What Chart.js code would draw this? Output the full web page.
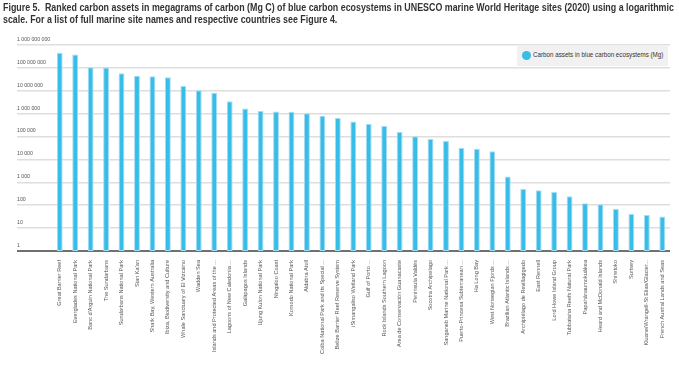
<!DOCTYPE html>
<html lang="en">
<head>
<meta charset="UTF-8">
<title>Figure 5 - Carbon assets</title>
<script src="https://cdn.jsdelivr.net/npm/chart.js"></script>
<style>
  body { margin: 0; background: #fff; }
  #wrap { position: relative; width: 679px; height: 372px; overflow: hidden; }
  #titulo {
    position: absolute; left: 3px; top: 1px;
    font-family: "Liberation Sans", Arial, sans-serif;
    font-weight: bold; font-size: 10.5px; line-height: 12px; color: #333;
    white-space: nowrap; transform: scaleX(0.845); transform-origin: left top;
  }
  #legenda {
    position: absolute; left: 517px; top: 45px; width: 151px; height: 21px;
    background: #f1f1f1;
    font-family: "Liberation Sans", Arial, sans-serif;
    font-size: 7.8px; color: #333; white-space: nowrap;
  }
  #legenda .bola {
    position: absolute; left: 5px; top: 6px; width: 9px; height: 9px; border-radius: 50%;
    background: #38bde9;
  }
  #legenda .txt {
    position: absolute; left: 16px; top: 5px; line-height: 10px;
    transform: scaleX(0.8); transform-origin: left top;
  }
  canvas { position: absolute; left: 0; top: 0; }
</style>
</head>
<body>
<div id="wrap">
  <canvas id="grafico" width="679" height="372"></canvas>
  <div id="titulo">Figure 5.&nbsp; Ranked carbon assets in megagrams of carbon (Mg C) of blue carbon ecosystems in UNESCO marine World Heritage sites (2020) using a logarithmic<br>scale. For a list of full marine site names and respective countries see Figure 4.</div>
  <div id="legenda"><span class="bola"></span><span class="txt">Carbon assets in blue carbon ecosystems (Mg)</span></div>
</div>

<script>
// sites, ranked
const siteNames = [
  "Great Barrier Reef", "Everglades National Park", "Banc d'Arguin National Park", "The Sundarbans",
  "Sundarbans National Park", "Sian Ka'an", "Shark Bay, Western Australia", "Ibiza, Biodiversity and Culture",
  "Whale Sanctuary of El Vizcaino", "Wadden Sea", "Islands and Protected Areas of the ...", "Lagoons of New Caledonia ...",
  "Galápagos Islands", "Ujung Kulon National Park", "Ningaloo Coast", "Komodo National Park",
  "Aldabra Atoll", "Coiba National Park and its Special ...", "Belize Barrier Reef Reserve System", "iSimangaliso Wetland Park",
  "Gulf of Porto ...", "Rock Islands Southern Lagoon", "Area de Conservación Guanacaste", "Peninsula Valdés",
  "Socotra Archipelago", "Sanganeb Marine National Park ...", "Puerto-Princesa Subterranean ...", "Ha Long Bay",
  "West Norwegian Fjords ...", "Brazilian Atlantic Islands ...", "Archipiélago de Revillagigedo", "East Rennell",
  "Lord Howe Island Group", "Tubbataha Reefs Natural Park", "Papahānaumokuākea", "Heard and McDonald Islands",
  "Shiretoko", "Surtsey", "Kluane/Wrangell-St Elias/Glacier...", "French Austral Lands and Seas"
];

// Mg C
const carbonAssets = [
  460000000, 380000000, 107000000, 105000000,
  58000000, 45000000, 43000000, 39000000,
  16000000, 10500000, 8300000, 3500000,
  1700000, 1300000, 1230000, 1220000,
  1040000, 810000, 640000, 450000,
  350000, 290000, 160000, 102000,
  78000, 64000, 32000, 29000,
  23000, 1800, 510, 450,
  380, 245, 121, 110,
  68, 41, 37, 32
];

const yTickValues = [1, 10, 100, 1000, 10000, 100000, 1000000, 10000000, 100000000, 1000000000];

const fonte = '"Liberation Sans", Arial, sans-serif';

function comEspacos(v) {
  return String(Math.round(v)).replace(/\B(?=(\d{3})+(?!\d))/g, ' ');
}

const ctx = document.getElementById('grafico');
new Chart(ctx, {
  type: 'bar',
  data: {
    labels: siteNames,
    datasets: [{
      label: 'Carbon assets in blue carbon ecosystems (Mg)',
      data: carbonAssets,
      backgroundColor: '#38bde9',
      borderColor: '#a6dcf2',
      borderWidth: 1,
      borderSkipped: false,
      barPercentage: 0.38,
      categoryPercentage: 1
    }]
  },
  options: {
    responsive: false,
    animation: false,
    layout: { padding: { left: 17, right: 9, top: 45, bottom: 0 } },
    plugins: {
      legend: { display: false },
      tooltip: { enabled: false }
    },
    scales: {
      x: {
        grid: { display: false },
        border: { display: false },
        afterFit: function (s) { s.height = 121; },
        ticks: {
          autoSkip: false,
          maxRotation: 90,
          minRotation: 90,
          padding: 1,
          color: '#555',
          font: { family: fonte, size: 5.6 }
        }
      },
      y: {
        type: 'logarithmic',
        min: 1,
        max: 1000000000,
        afterBuildTicks: function (s) {
          s.ticks = yTickValues.map(function (v) { return { value: v, major: true }; });
        },
        afterFit: function (s) { s.width = 35; },
        grid: {
          color: function (c) { return c.tick && c.tick.value === 1 ? '#707070' : '#dedede'; },
          lineWidth: function (c) { return c.tick && c.tick.value === 1 ? 2 : 1.5; },
          tickLength: 35
        },
        border: { display: false },
        ticks: {
          crossAlign: 'far',
          padding: 0,
          labelOffset: -5.5,
          color: '#555',
          font: { family: fonte, size: 5.2 },
          callback: function (v) { return comEspacos(v); }
        }
      }
    }
  }
});
</script>
</body>
</html>
